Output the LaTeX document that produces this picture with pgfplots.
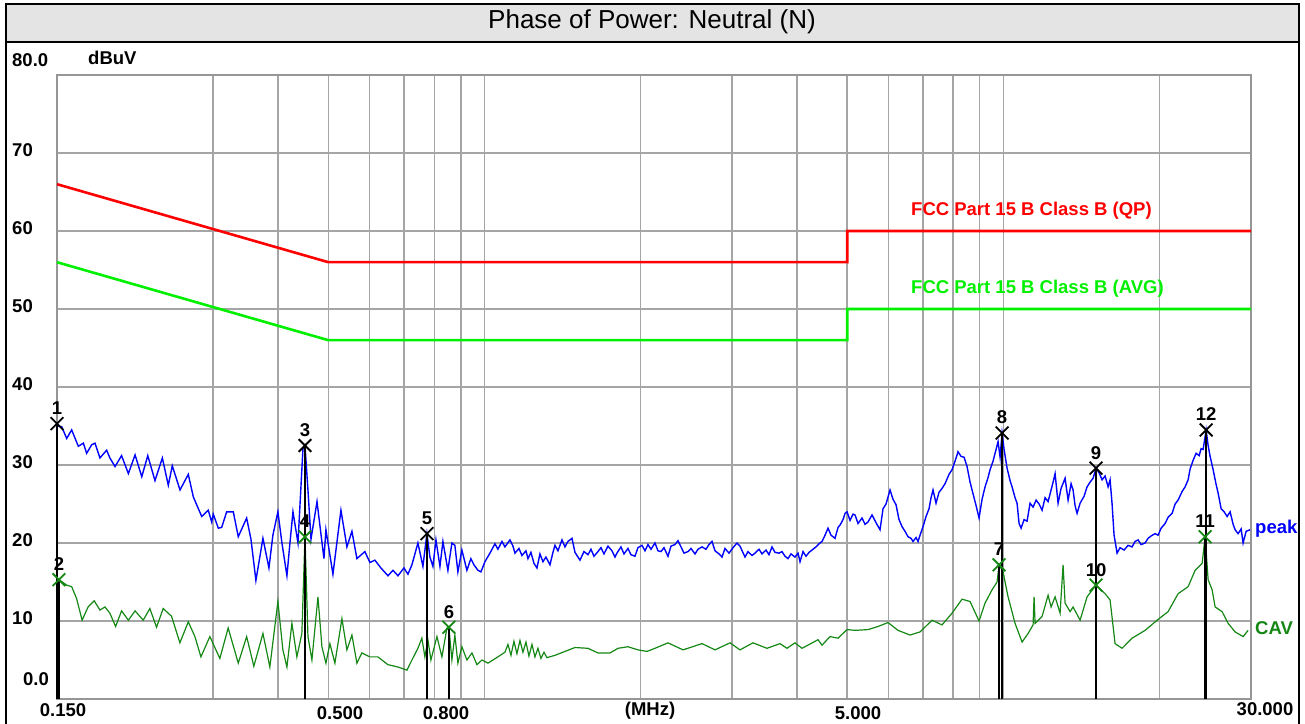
\documentclass[border=0pt]{standalone}
\usepackage{fontspec}
\setmainfont{Liberation Sans}
\usepackage{pgfplots}
\usepackage{pgfplotstable}
\pgfplotsset{compat=1.18}
\definecolor{qpred}{RGB}{255,0,0}
\definecolor{avggreen}{RGB}{0,240,0}
\definecolor{peakblue}{RGB}{0,0,255}
\definecolor{cavgreen}{RGB}{20,135,20}
\definecolor{gridgray}{RGB}{165,165,165}
\definecolor{framegray}{RGB}{150,150,150}
\definecolor{titlegray}{RGB}{228,228,228}
\newcommand{\lbl}{\fontsize{18.5}{20}\selectfont\bfseries}

\pgfplotstableread{
f v
0.1500 35.3
0.1509 35.0
0.1532 34.9
0.1566 33.4
0.1601 34.5
0.1649 32.4
0.1686 32.8
0.1711 31.5
0.1750 32.6
0.1776 32.8
0.1815 30.9
0.1870 31.9
0.1897 30.9
0.1941 29.8
0.1998 31.2
0.2059 28.9
0.2121 31.3
0.2185 28.5
0.2244 31.2
0.2317 28.0
0.2394 30.9
0.2458 27.4
0.2502 29.9
0.2589 26.8
0.2686 28.8
0.2747 25.9
0.2851 23.4
0.2935 24.2
0.2980 22.7
0.3001 23.7
0.3069 21.9
0.3115 22.0
0.3185 24.0
0.3280 24.0
0.3353 20.8
0.3480 23.2
0.3547 20.5
0.3626 15.2
0.3741 20.6
0.3842 16.8
0.3910 21.0
0.3998 24.0
0.4070 20.0
0.4161 15.8
0.4217 20.0
0.4274 24.0
0.4370 20.0
0.4468 32.1
0.4508 32.5
0.4568 26.8
0.4630 20.5
0.4755 25.3
0.4904 18.0
0.4947 21.7
0.5103 16.0
0.5288 24.2
0.5430 19.5
0.5552 21.5
0.5676 18.0
0.5881 18.9
0.6013 17.5
0.6148 17.8
0.6314 16.8
0.6515 15.8
0.6661 16.5
0.6810 15.8
0.6994 16.8
0.7119 16.0
0.7246 17.2
0.7442 20.0
0.7609 17.0
0.7745 21.2
0.7849 18.2
0.7954 17.0
0.8061 20.4
0.8205 17.0
0.8314 20.2
0.8500 16.5
0.8652 20.0
0.8767 19.7
0.8885 16.3
0.9044 19.1
0.9247 16.5
0.9412 18.0
0.9541 17.2
0.9712 16.5
0.9842 16.3
1.0018 17.6
1.0243 18.7
1.0473 19.9
1.0613 19.2
1.0803 20.2
1.0948 19.5
1.1194 20.4
1.1344 19.6
1.1445 18.7
1.1650 19.3
1.1806 18.4
1.2018 19.0
1.2125 18.0
1.2287 18.8
1.2452 17.4
1.2619 16.8
1.2788 18.6
1.2959 17.6
1.3133 18.2
1.3369 17.2
1.3548 18.8
1.3669 19.7
1.3852 19.0
1.4101 20.4
1.4289 19.5
1.4481 20.2
1.4740 20.6
1.4938 18.8
1.5138 18.2
1.5273 17.8
1.5547 18.9
1.5825 18.5
1.6037 19.2
1.6252 18.3
1.6543 18.9
1.6765 19.4
1.6990 18.6
1.7294 19.6
1.7603 19.0
1.7839 18.2
1.7998 18.7
1.8321 19.5
1.8567 18.6
1.8899 19.3
1.9153 18.5
1.9496 18.3
1.9757 19.4
2.0111 19.7
2.0380 19.0
2.0653 19.8
2.0931 19.2
2.1305 20.0
2.1591 19.0
2.1880 18.9
2.2173 19.4
2.2570 18.3
2.2873 19.6
2.3283 19.8
2.3595 20.3
2.3911 19.5
2.4231 18.7
2.4665 18.9
2.4997 19.3
2.5444 18.6
2.5785 19.2
2.6247 19.5
2.6717 19.2
2.7075 19.8
2.7438 20.2
2.7806 19.0
2.8304 18.6
2.8683 18.2
2.9068 19.3
2.9589 18.7
3.0118 19.4
3.0658 20.0
3.1069 19.6
3.1766 18.2
3.2192 18.9
3.2768 18.4
3.3208 18.7
3.3803 19.2
3.4256 18.6
3.4869 19.1
3.5337 18.5
3.5810 19.5
3.6290 18.8
3.6940 18.7
3.7436 18.9
3.7937 18.3
3.8446 18.0
3.8962 18.6
3.9659 18.2
4.0191 18.7
4.0549 17.6
4.1092 18.9
4.1643 18.3
4.2201 18.8
4.2767 19.1
4.3533 19.5
4.4116 19.9
4.4708 20.2
4.5307 21.0
4.5915 21.9
4.6530 21.0
4.7363 20.6
4.7998 22.0
4.8426 22.3
4.9075 23.0
4.9512 23.8
4.9954 24.0
5.0624 22.9
5.1302 23.7
5.1760 23.6
5.2454 22.5
5.3393 23.2
5.4108 22.4
5.4834 22.7
5.5816 23.6
5.6816 22.6
5.7834 21.7
5.8609 24.4
5.9394 25.0
6.0458 26.8
6.1268 25.6
6.2089 24.9
6.2922 23.0
6.3765 22.1
6.4620 21.5
6.5486 20.8
6.6364 20.6
6.6955 20.2
6.7853 20.7
6.8458 20.2
6.9069 21.0
6.9995 22.1
7.0933 23.4
7.1884 24.4
7.2524 25.8
7.3171 26.8
7.4151 25.1
7.5145 26.5
7.6153 27.0
7.7173 27.6
7.8556 28.8
7.9609 29.4
8.0676 30.5
8.1758 31.7
8.2854 31.1
8.3964 31.0
8.5089 29.8
8.6230 27.8
8.6998 26.8
8.8557 24.8
8.9744 23.2
9.0947 25.6
9.2166 27.2
9.3402 28.4
9.4235 29.4
9.5498 30.5
9.6349 31.5
9.7641 33.0
9.8511 31.0
9.9389 34.1
10.028 32.0
10.162 29.6
10.298 28.0
10.390 27.2
10.529 25.8
10.623 25.1
10.718 22.5
10.814 21.9
10.959 23.0
11.106 22.8
11.254 25.1
11.405 24.6
11.558 25.5
11.713 25.0
11.870 24.2
12.029 25.8
12.190 25.3
12.354 26.8
12.464 27.8
12.575 28.9
12.743 25.1
12.914 27.0
13.145 28.3
13.322 25.5
13.500 27.6
13.620 26.8
13.741 24.8
13.864 23.8
14.050 25.1
14.302 26.0
14.493 27.2
14.688 27.8
14.885 28.3
15.084 29.6
15.287 29.0
15.492 28.1
15.699 28.6
15.910 27.2
16.051 28.1
16.194 25.0
16.338 21.0
16.557 18.7
16.780 19.4
17.081 19.1
17.386 19.7
17.697 19.5
17.934 20.2
18.175 20.4
18.419 19.8
18.748 20.0
19.000 20.6
19.255 20.9
19.600 21.2
19.863 21.0
20.129 21.9
20.490 22.5
20.764 23.3
21.136 23.8
21.419 25.0
21.706 25.5
22.095 26.6
22.391 27.2
22.691 28.1
22.894 29.5
23.201 30.6
23.512 31.5
23.827 31.2
24.040 32.1
24.254 32.0
24.579 34.5
24.798 32.5
25.019 31.1
25.354 29.4
25.694 27.5
25.923 26.4
26.270 24.4
26.622 24.0
26.979 23.4
27.341 24.0
27.707 22.4
27.954 21.7
28.329 21.2
28.709 21.8
28.965 20.0
29.353 21.5
29.879 21.7
}\peaktbl

\pgfplotstableread{
f v
0.1500 15.0
0.1513 15.3
0.1566 14.6
0.1601 14.4
0.1636 12.9
0.1677 10.1
0.1722 11.8
0.1769 12.6
0.1815 11.4
0.1856 11.8
0.1897 11.0
0.1946 9.3
0.1998 11.3
0.2059 10.1
0.2121 11.3
0.2199 10.1
0.2265 11.6
0.2333 9.2
0.2403 11.6
0.2494 10.6
0.2588 7.2
0.2686 9.9
0.2766 8.0
0.2841 5.4
0.2956 8.0
0.3090 5.2
0.3206 9.1
0.3353 4.6
0.3480 8.0
0.3593 4.2
0.3741 8.4
0.3858 4.1
0.3998 12.5
0.4087 6.3
0.4161 4.1
0.4254 9.7
0.4349 5.4
0.4446 8.4
0.4508 20.8
0.4568 8.0
0.4649 5.0
0.4775 13.1
0.4860 6.7
0.4947 4.6
0.5035 7.1
0.5148 4.6
0.5311 10.3
0.5430 6.3
0.5552 8.2
0.5676 4.6
0.5803 5.9
0.6013 5.4
0.6230 5.4
0.6515 4.4
0.6810 4.1
0.7087 3.7
0.7246 5.0
0.7442 6.5
0.7574 7.8
0.7675 5.4
0.7778 7.6
0.7883 5.0
0.8096 8.0
0.8277 5.4
0.8463 9.1
0.8538 9.2
0.8652 5.0
0.8767 8.2
0.8885 4.6
0.9044 6.7
0.9247 5.0
0.9457 5.9
0.9669 4.4
0.9885 5.0
1.0152 4.6
1.0613 5.4
1.0948 6.0
1.1095 7.0
1.1244 5.6
1.1394 7.4
1.1547 5.8
1.1702 7.5
1.1859 6.0
1.2018 7.3
1.2179 5.5
1.2342 7.0
1.2507 5.4
1.2675 6.5
1.2845 5.2
1.3017 6.0
1.3191 5.3
1.3669 5.6
1.4289 6.1
1.4938 6.6
1.5825 6.5
1.6543 5.9
1.7448 5.9
1.8079 6.5
1.8899 6.7
1.9757 6.3
2.0562 6.1
2.1305 6.5
2.2570 7.2
2.4124 6.3
2.6247 7.1
2.7806 6.3
2.9720 7.2
3.1069 6.3
3.2914 7.2
3.5024 6.5
3.7105 7.1
3.8276 6.5
3.9659 7.2
4.0910 6.5
4.3921 7.6
4.4708 6.9
4.6324 8.0
4.7998 7.8
4.9954 8.9
5.1760 8.8
5.4834 8.9
5.7322 9.3
5.9925 9.8
6.2643 8.8
6.6070 8.2
6.9069 8.6
7.2846 10.1
7.6153 9.5
7.9609 11.0
8.3222 12.8
8.6230 12.5
8.9744 10.0
9.2166 12.3
9.5075 14.0
9.7208 15.0
9.8075 17.2
9.9831 16.3
10.207 13.1
10.529 9.7
10.862 7.3
11.155 8.4
11.405 9.5
11.456 13.1
11.506 9.7
11.870 10.6
12.190 13.3
12.354 11.8
12.575 13.1
12.857 11.0
13.029 17.2
13.145 12.3
13.440 11.2
13.620 11.8
14.050 10.1
14.493 13.1
15.084 14.6
15.699 13.5
16.051 12.7
16.411 7.1
16.930 6.5
17.697 7.8
18.748 8.8
19.775 10.1
20.764 11.2
21.706 13.5
22.691 14.4
23.408 16.5
24.146 17.4
24.470 20.8
24.798 15.3
25.242 14.0
25.580 11.8
26.387 11.2
27.099 9.7
27.954 8.6
28.965 8.0
29.615 8.8
}\cavtbl

\pgfplotstableread{
f v lab
0.1500 35.3 1
0.4508 32.5 3
0.7745 21.2 5
9.9389 34.1 8
15.084 29.6 9
24.579 34.5 12
}\pkmarks

\pgfplotstableread{
f v lab
0.1513 15.3 2
0.4508 20.8 4
0.8538 9.2 6
9.8075 17.2 7
15.084 14.6 10
24.470 20.8 11
}\avmarks

\begin{document}
\begin{tikzpicture}
\path[use as bounding box] (0pt,0pt) rectangle (1305pt,723pt);
\fill[titlegray] (6pt,681pt) rectangle (1299pt,719pt);
\draw[black, line width=1.5pt] (6pt,681pt) -- (1299pt,681pt);
\draw[black, line width=2pt] (6pt,-3pt) -- (6pt,719pt) -- (1299pt,719pt) -- (1299pt,-3pt);
\node[font=\fontsize{26}{28}\selectfont] at (652pt,701pt) {Phase of Power: Neutral (N)};

\begin{axis}[
  at={(57pt,24pt)}, anchor=south west,
  scale only axis, width=1194pt, height=624pt,
  xmode=log, xmin=0.15, xmax=30, ymin=0, ymax=80,
  clip=false,
  axis line style={framegray, line width=2.5pt},
  xtick={0.3,0.4,0.5,0.6,0.7,0.8,0.9,1,2,3,4,5,6,7,8,9,10,20},
  minor xtick={},
  xticklabels={},
  ytick={10,20,30,40,50,60,70},
  yticklabels={10,20,30,40,50,60,70},
  yticklabel style={font=\lbl, anchor=east, inner sep=0pt, xshift=-24pt, yshift=2.5pt},
  tick style={draw=none},
  grid=major,
  major grid style={gridgray, line width=1.5pt},
]
\addplot[qpred, line width=2.6pt] coordinates {(0.15,66) (0.5,56) (5,56) (5,60) (30,60)};
\addplot[avggreen, line width=2.6pt] coordinates {(0.15,56) (0.5,46) (5,46) (5,50) (30,50)};
\addplot[peakblue, line width=1.4pt] table[x=f, y=v] {\peaktbl};
\addplot[cavgreen, line width=1.2pt] table[x=f, y=v] {\cavtbl};
\addplot[black, line width=1.5pt, ycomb, mark=none] table[x=f, y=v] {\pkmarks};
\addplot[black, line width=1.5pt, ycomb, mark=none] table[x=f, y=v] {\avmarks};
\addplot[only marks, mark=x, mark size=9pt, mark options={black, line width=1.8pt},
  point meta=explicit symbolic, nodes near coords,
  nodes near coords style={font=\lbl, black, anchor=south, inner sep=0pt, yshift=8pt}]
  table[x=f, y=v, meta=lab] {\pkmarks};
\addplot[only marks, mark=x, mark size=9pt, mark options={cavgreen, line width=1.8pt},
  point meta=explicit symbolic, nodes near coords,
  nodes near coords style={font=\lbl, black, anchor=south, inner sep=0pt, yshift=8pt}]
  table[x=f, y=v, meta=lab] {\avmarks};
\end{axis}

\node[font=\lbl, anchor=west, inner sep=0pt] at (12pt,663pt) {80.0};
\node[font=\lbl, anchor=west, inner sep=0pt] at (23pt,44pt) {0.0};
\node[font=\lbl, anchor=west, inner sep=0pt] at (88pt,665pt) {dBuV};
\node[font=\lbl, inner sep=0pt] at (63pt,13pt) {0.150};
\node[font=\lbl, inner sep=0pt] at (340pt,9.5pt) {0.500};
\node[font=\lbl, inner sep=0pt] at (446pt,9.5pt) {0.800};
\node[font=\lbl, inner sep=0pt] at (650pt,12.5pt) {(MHz)};
\node[font=\lbl, inner sep=0pt] at (858pt,9.5pt) {5.000};
\node[font=\lbl, inner sep=0pt] at (1265pt,13.5pt) {30.000};
\node[font=\lbl, text=qpred, anchor=base west, inner sep=0pt] at (911pt,507pt) {FCC Part 15 B Class B (QP)};
\node[font=\lbl, text=avggreen, anchor=base west, inner sep=0pt] at (911pt,429pt) {FCC Part 15 B Class B (AVG)};
\node[font=\lbl, text=peakblue, anchor=base west, inner sep=0pt] at (1255pt,190pt) {peak};
\node[font=\lbl, text=cavgreen, anchor=base west, inner sep=0pt] at (1255pt,89pt) {CAV};
\end{tikzpicture}
\end{document}
